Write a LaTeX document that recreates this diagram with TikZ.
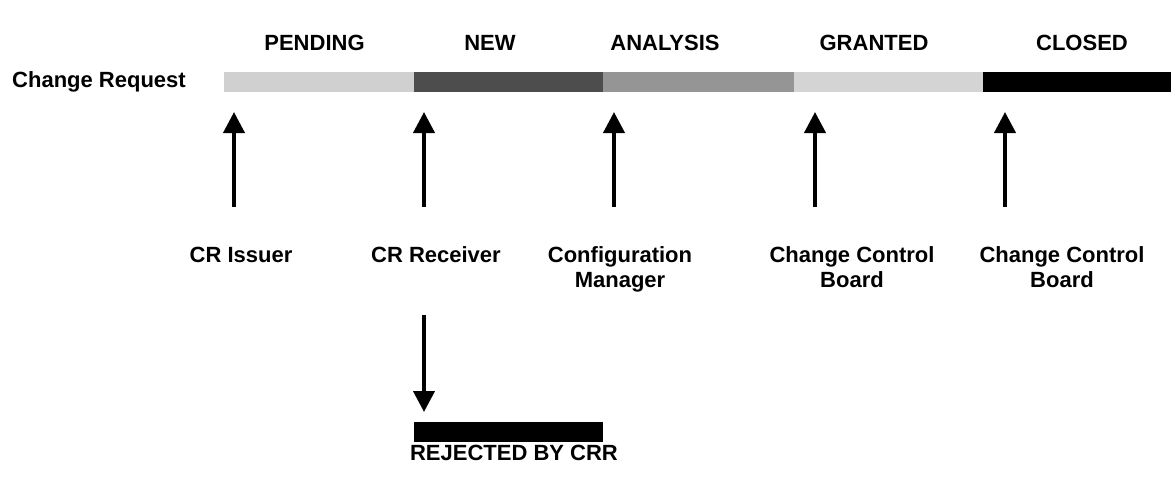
\documentclass[tikz,border=0pt]{standalone}
\usepackage{fontspec}
\setmainfont{Liberation Sans}
\usetikzlibrary{arrows.meta}
\definecolor{pendinggray}{HTML}{D0D0D0}
\definecolor{newgray}{HTML}{4D4D4D}
\definecolor{analysisgray}{HTML}{959595}
\definecolor{grantedgray}{HTML}{D4D4D4}
\tikzset{
  lbl/.style={inner sep=0pt, anchor=base, align=center,
    font=\fontsize{22}{25}\selectfont\bfseries},
  segment/.style={inner sep=0pt, outer sep=0pt, draw=none,
    minimum height=20pt, anchor=north west},
  flow/.style={line width=4pt,
    -{Triangle[width=21pt,length=21pt]}}
}
\begin{document}
\begin{tikzpicture}[x=1pt,y=-1pt]
  \useasboundingbox (0,0) rectangle (1171,487);

  % row label and phase headers
  \node[lbl, anchor=base west] (cr) at (12,88) {Change Request};
  \node[lbl] (hpending)  at (314.5,50.5) {PENDING};
  \node[lbl] (hnew)      at (490,50.5)   {NEW};
  \node[lbl] (hanalysis) at (665,50.5)   {ANALYSIS};
  \node[lbl] (hgranted)  at (874,50.5)   {GRANTED};
  \node[lbl] (hclosed)   at (1082,50.5)  {CLOSED};

  % life-cycle bar
  \node[segment, fill=pendinggray,  minimum width=190pt] (pending)  at (224,72) {};
  \node[segment, fill=newgray,      minimum width=189pt] (new)      at (414,72) {};
  \node[segment, fill=analysisgray, minimum width=191pt] (analysis) at (603,72) {};
  \node[segment, fill=grantedgray,  minimum width=189pt] (granted)  at (794,72) {};
  \node[segment, fill=black,        minimum width=188pt] (closed)   at (983,72) {};

  % actors triggering each transition (base = last line)
  \node[lbl] (issuer)   at (241,262)  {CR Issuer};
  \node[lbl] (receiver) at (436,262)  {CR Receiver};
  \node[lbl] (config)   at (620,287)  {Configuration\\Manager};
  \node[lbl] (ccb1)     at (852,287)  {Change Control\\Board};
  \node[lbl] (ccb2)     at (1062,287) {Change Control\\Board};

  % arrow ends
  \coordinate (a1) at (234,207);  \coordinate (b1) at (234,112);
  \coordinate (a2) at (424,207);  \coordinate (b2) at (424,112);
  \coordinate (a3) at (614,207);  \coordinate (b3) at (614,112);
  \coordinate (a4) at (815,207);  \coordinate (b4) at (815,112);
  \coordinate (a5) at (1005,207); \coordinate (b5) at (1005,112);

  \draw[flow] (a1) -- (b1);
  \draw[flow] (a2) -- (b2);
  \draw[flow] (a3) -- (b3);
  \draw[flow] (a4) -- (b4);
  \draw[flow] (a5) -- (b5);

  % rejection branch
  \node[segment, fill=black, minimum width=189pt] (rejected) at (414,422) {};
  \coordinate (r1) at (424,315);
  \coordinate (r2) at (424,412);
  \draw[flow] (r1) -- (r2);
  \node[lbl] (rejlabel) at (514,460) {REJECTED BY CRR};
\end{tikzpicture}
\end{document}
